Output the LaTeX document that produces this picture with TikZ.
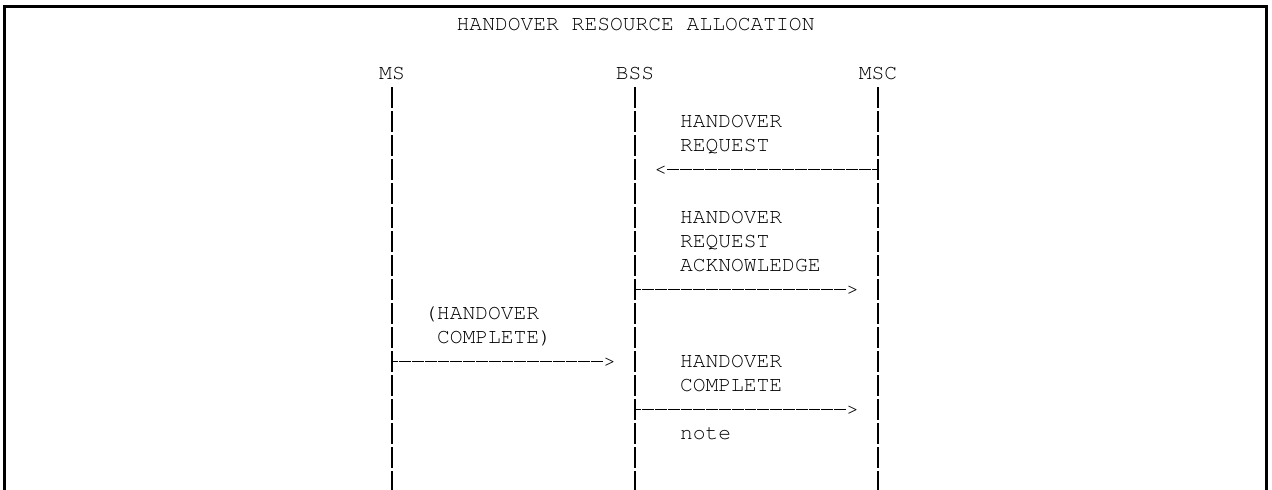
\documentclass[tikz,border=0pt]{standalone}
\usepackage{fontspec}
\setmainfont{TeX Gyre Cursor}
\begin{document}
\begin{tikzpicture}[x=1pt,y=-1pt,
  txt/.style={anchor=base west, inner sep=0pt, font=\fontsize{21.3}{24}\selectfont},
  ctxt/.style={anchor=base, inner sep=0pt, font=\fontsize{21.3}{24}\selectfont},
  life/.style={line width=1.3pt, dash pattern=on 20.5pt off 3.5pt},
  msg/.style={line width=1pt, dash pattern=on 11.79pt off 1pt, dash phase=5.5pt},
  frame/.style={line width=2.6pt}]
\useasboundingbox (0,0) rectangle (1272,490);
% frame (open at bottom)
\draw[frame] (4.5,491) -- (4.5,6.5) -- (1266.5,6.5) -- (1266.5,491);
% title
\node[txt] (title) at (456.5,30.5) {HANDOVER RESOURCE ALLOCATION};
% entities
\node[ctxt] (ms)  at (392,79.5) {MS};
\node[ctxt] (bss) at (635,79.5) {BSS};
\node[ctxt] (msc) at (878,79.5) {MSC};
% lifelines
\coordinate (msT)  at (392,87);  \coordinate (msB)  at (392,491);
\coordinate (bssT) at (635,87);  \coordinate (bssB) at (635,491);
\coordinate (mscT) at (878,87);  \coordinate (mscB) at (878,491);
\draw[life] (msT) -- (msB);
\draw[life] (bssT) -- (bssB);
\draw[life] (mscT) -- (mscB);
% message 1: HANDOVER REQUEST  MSC -> BSS
\node[txt] (m1a) at (679.8,127.5) {HANDOVER};
\node[txt] (m1b) at (679.8,151.5) {REQUEST};
\coordinate (m1s) at (878,169);
\node[txt] (t1) at (654.2,175.5) {<};
\draw[msg] (m1s) -- (m1s -| t1.east);
% message 2: HANDOVER REQUEST ACKNOWLEDGE  BSS -> MSC
\node[txt] (m2a) at (679.8,223.5) {HANDOVER};
\node[txt] (m2b) at (679.8,247.5) {REQUEST};
\node[txt] (m2c) at (679.8,271.5) {ACKNOWLEDGE};
\coordinate (m2s) at (635,289);
\node[txt] (t2) at (846,295.5) {>};
\draw[msg] (m2s) -- (m2s -| t2.west);
% message 3: (HANDOVER COMPLETE)  MS -> BSS
\node[txt] (m3a) at (424.0,319.5) {(HANDOVER};
\node[txt] (m3b) at (436.8,343.5) {COMPLETE)};
\coordinate (m3s) at (392,361);
\node[txt] (t3) at (603.0,367.5) {>};
\draw[msg] (m3s) -- (m3s -| t3.west);
% message 4: HANDOVER COMPLETE  BSS -> MSC
\node[txt] (m4a) at (679.8,367.5) {HANDOVER};
\node[txt] (m4b) at (679.8,391.5) {COMPLETE};
\coordinate (m4s) at (635,409);
\node[txt] (t4) at (846,415.5) {>};
\draw[msg] (m4s) -- (m4s -| t4.west);
% note
\node[txt] (note) at (679.8,439.5) {note};
\end{tikzpicture}
\end{document}
